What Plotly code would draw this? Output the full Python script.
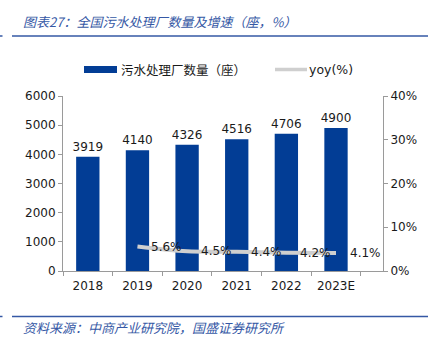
import plotly.graph_objects as go

years = ["2018", "2019", "2020", "2021", "2022", "2023E"]
plants = [3919, 4140, 4326, 4516, 4706, 4900]
yoy_years = ["2019", "2020", "2021", "2022", "2023E"]
yoy = [5.6, 4.5, 4.4, 4.2, 4.1]

W, H = 428, 342
L, R, T, B = 63, 45, 96, 71
PH = H - T - B
PW = W - L - R

def py(y):  # pixel y -> paper
    return (H - B - y) / PH

def px(x):  # pixel x -> paper
    return (x - L) / PW

BLUE = "#023d95"
TITLE = "#3558a5"
GRAY = "#cfcfcf"
AX = "#9a9a9a"
TXT = "#1a1a1a"
FONT = "DejaVu Sans, Verdana, sans-serif"
CJK = "Noto Sans CJK SC"

fig = go.Figure()
fig.add_trace(go.Bar(
    x=years, y=plants, marker=dict(color=BLUE, line=dict(width=0)),
    text=[str(v) for v in plants], textposition="outside", constraintext="none",
    textfont=dict(family=FONT, size=12, color=TXT), cliponaxis=False,
    showlegend=False,
))
fig.add_trace(go.Scatter(
    x=yoy_years, y=yoy, yaxis="y2", mode="lines",
    line=dict(color=GRAY, width=4, shape="spline"),
    showlegend=False,
))

fig.update_layout(
    width=W, height=H, margin=dict(l=L, r=R, t=T, b=B, autoexpand=False),
    paper_bgcolor="white", plot_bgcolor="white",
    bargap=0.53, showlegend=False,
    font=dict(family=FONT, size=12, color=TXT),
    xaxis=dict(type="category", categoryorder="array", categoryarray=years,
               showgrid=False, showline=True, linecolor=AX, linewidth=1,
               ticks="outside", tickson="boundaries", ticklen=4, tickcolor=AX,
               ticklabelstandoff=4, automargin=False,
               tickfont=dict(family=FONT, size=12, color=TXT)),
    yaxis=dict(range=[0, 6000], dtick=1000, showgrid=False, showline=True,
               linecolor=AX, linewidth=1, ticks="outside", ticklen=4, tickcolor=AX,
               automargin=False,
               zeroline=False, tickfont=dict(family=FONT, size=12, color=TXT)),
    yaxis2=dict(range=[0, 40], dtick=10, overlaying="y", side="right",
                showgrid=False, showline=True, linecolor=AX, linewidth=1,
                ticks="outside", ticklen=4, tickcolor=AX, ticksuffix="%",
                automargin=False,
                zeroline=False, tickfont=dict(family=FONT, size=12, color=TXT)),
)

shapes = [
    dict(type="line", xref="paper", yref="paper", x0=px(12), x1=px(428), y0=py(36), y1=py(36),
         line=dict(color=TITLE, width=1.5)),
    dict(type="line", xref="paper", yref="paper", x0=px(0), x1=px(2.5), y0=py(36), y1=py(36),
         line=dict(color=TITLE, width=1.5)),
    dict(type="line", xref="paper", yref="paper", x0=px(12), x1=px(428), y0=py(316.5), y1=py(316.5),
         line=dict(color=TITLE, width=1.5)),
    dict(type="line", xref="paper", yref="paper", x0=px(0), x1=px(2.5), y0=py(316.5), y1=py(316.5),
         line=dict(color=TITLE, width=1.5)),
    dict(type="rect", xref="paper", yref="paper", x0=px(84), x1=px(117), y0=py(73), y1=py(66),
         fillcolor=BLUE, line=dict(width=0)),
    dict(type="line", xref="paper", yref="paper", x0=px(275), x1=px(307), y0=py(69.5), y1=py(69.5),
         line=dict(color=GRAY, width=3.5)),
]
fig.update_layout(shapes=shapes)

anns = [
    dict(text="<i>图表27：全国污水处理厂数量及增速（座，%）</i>", x=px(21), y=py(21),
         xanchor="left", yanchor="middle", font=dict(family=CJK, size=13, color=TITLE)),
    dict(text="<i>资料来源：中商产业研究院，国盛证券研究所</i>", x=px(21), y=py(327),
         xanchor="left", yanchor="middle", font=dict(family=CJK, size=13, color=TITLE)),
    dict(text="污水处理厂数量（座）", x=px(119), y=py(69.5), xanchor="left", yanchor="middle",
         font=dict(family=CJK, size=12.5, color=TXT)),
    dict(text="yoy(%)", x=px(307), y=py(69.5), xanchor="left", yanchor="middle",
         font=dict(family=FONT, size=12.5, color=TXT)),
]
for a in anns:
    a.update(xref="paper", yref="paper", showarrow=False)
for xv, yv in zip(yoy_years, yoy):
    anns.append(dict(text=f"{yv}%", x=years.index(xv), y=yv, xref="x", yref="y2", showarrow=False,
                     xanchor="left", yanchor="middle", xshift=12,
                     font=dict(family=FONT, size=12, color=TXT)))
fig.update_layout(annotations=anns)

fig.write_html("out.html")
